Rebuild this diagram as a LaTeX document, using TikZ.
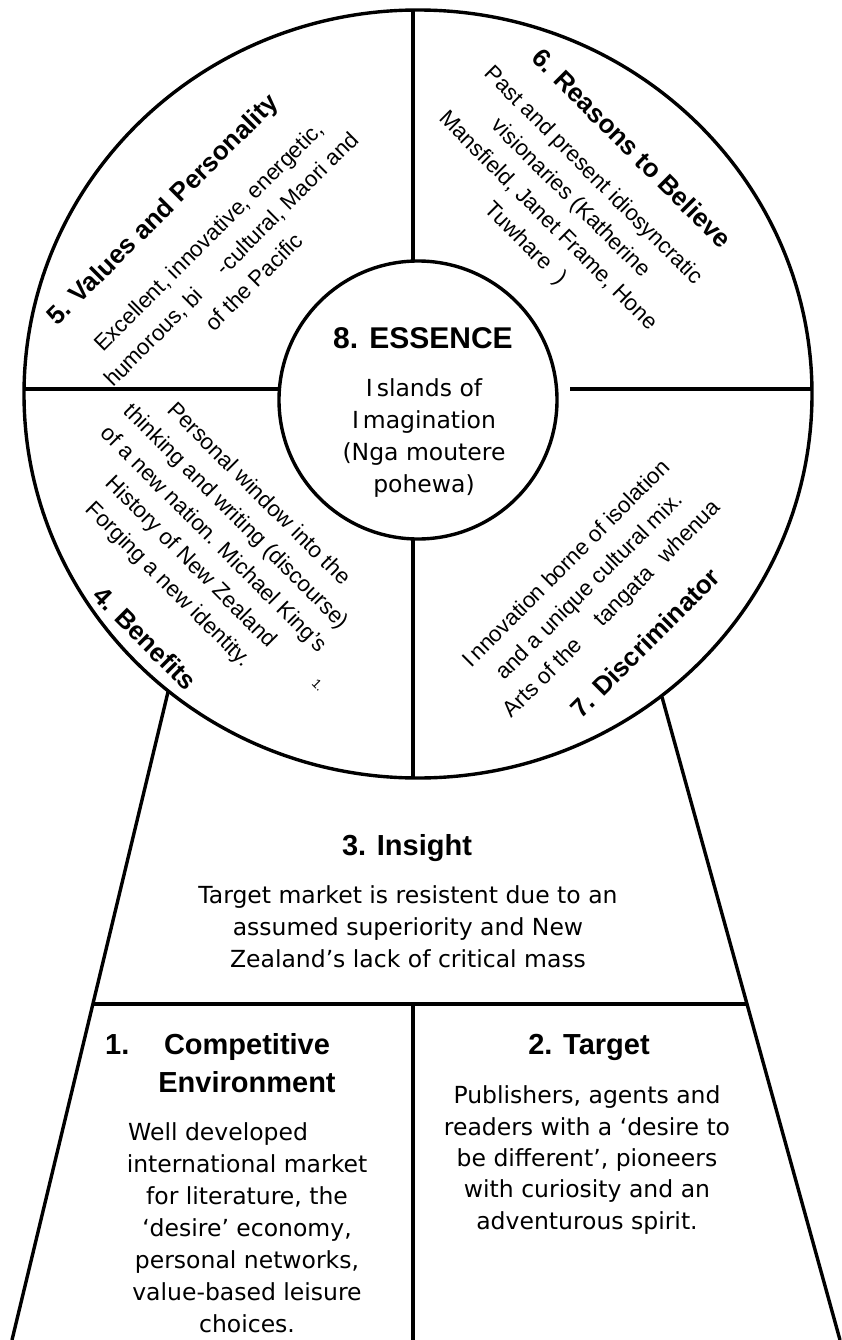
\documentclass[tikz,border=0pt]{standalone}
\usepackage{fontspec}
\newfontfamily\arialf{Liberation Sans}
\newfontfamily\verdf{DejaVu Sans}
\begin{document}
\begin{tikzpicture}[x=1pt,y=-1pt,
  divider/.style={line width=3.4pt},
  rbody/.style={font=\arialf\fontsize{22.3}{32}\selectfont, align=center, inner sep=0pt},
  rtitle/.style={font=\arialf\bfseries\fontsize{26}{30}\selectfont, inner sep=0pt},
  hbody/.style={font=\verdf\fontsize{23.5}{32}\selectfont, align=center, inner sep=0pt},
  htitle/.style={font=\arialf\bfseries\fontsize{29}{38}\selectfont, inner sep=0pt},
  note/.style={font=\arialf\fontsize{13}{15}\selectfont, inner sep=0pt},
]
\fill[white] (0,0) rectangle (841,1340);
\useasboundingbox (0,0) rectangle (841,1340);

% the wheel and the essence circle at its hub
\draw[divider] (418,394) ellipse [x radius=394pt, y radius=384pt];
\draw[divider] (418,400) circle [radius=139pt];

% end points of the dividing lines
\coordinate (rimTop) at (413,10);
\coordinate (hubTop) at (413,261);
\coordinate (hubBottom) at (413,539);
\coordinate (rimBottom) at (413,778);
\coordinate (rimLeft) at (24,389);
\coordinate (hubLeft) at (279,389);
\coordinate (hubRight) at (570,389);
\coordinate (rimRight) at (812,389);
\coordinate (stemLeftTop) at (168,692);
\coordinate (stemLeftFoot) at (12,1340);
\coordinate (stemRightTop) at (662,697);
\coordinate (stemRightFoot) at (840,1340);
\coordinate (shelfLeft) at (93,1004);
\coordinate (shelfRight) at (747,1004);
\coordinate (shelfMid) at (413,1004);
\coordinate (baseMid) at (413,1340);

\draw[divider] (rimTop) -- (hubTop);
\draw[divider] (hubBottom) -- (rimBottom);
\draw[divider] (rimLeft) -- (hubLeft);
\draw[divider] (hubRight) -- (rimRight);
\draw[divider] (stemLeftTop) -- (stemLeftFoot);
\draw[divider] (stemRightTop) -- (stemRightFoot);
\draw[divider] (shelfLeft) -- (shelfRight);
\draw[divider] (shelfMid) -- (baseMid);

% 8. essence (multi-line nodes are anchored at the baseline of their last line)
\node[htitle, font=\arialf\bfseries\fontsize{30}{36}\selectfont, anchor=base] (essTitle) at (423,348) {8. ESSENCE};
\node[hbody, anchor=base] (essBody) at (424,492) {I\kern4pt slands of\\I\kern4pt magination\\(Nga moutere\\pohewa)};

% 5. values and personality
\node[rtitle, rotate=45] (valTitle) at (164,211) {5. Values and Personality};
\node[rbody, rotate=45] (valBody) at (231,259) {Excellent, innovative, energetic,\\humorous, bi\hspace{1.3em}-cultural, Maori and\\of the Pacific};

% 6. reasons to believe
\node[rtitle, rotate=-45] (rsnTitle) at (632,148) {6. Reasons to Believe};
\node[rbody, rotate=-45] (rsnBody) at (559,210) {Past and present idiosyncratic\\visionaries (Katherine\\Mansfield, Janet Frame, Hone\\Tuwhare\hspace{0.6em})};

% 4. benefits
\node[rtitle, rotate=-45] (benTitle) at (145,638) {4. Benefits};
\node[rbody, rotate=-45] (benBody) at (213,540) {Personal window into the\\thinking and writing (discourse)\\of a new nation. Michael King’s\\History of New Zealand\\Forging a new identity.};
\node[note, rotate=-45] (benNote) at (318,685) {1.};

% 7. discriminator
\node[rtitle, rotate=45] (disTitle) at (645,643) {7. Discriminator};
\node[rbody, rotate=45] (disBody) at (590,587) {I\kern3pt nnovation borne of isolation\\and a unique cultural mix.\\Arts of the\hspace{1.2em}tangata\hspace{0.7em}whenua};

% 3. insight
\node[htitle, anchor=base] (insTitle) at (407,855) {3. Insight};
\node[hbody, anchor=base] (insBody) at (408,967) {Target market is resistent due to an\\assumed superiority and New\\Zealand’s lack of critical mass};

% 1. competitive environment
\node[htitle, anchor=base west] (cmpNum) at (105,1054) {1.};
\node[htitle, anchor=base, align=center] (cmpTitle) at (247,1092) {Competitive\\Environment};
\node[hbody, anchor=base west] (cmpLead) at (128,1140) {Well developed};
\node[hbody, anchor=base] (cmpBody) at (247,1332) {international market\\for literature, the\\‘desire’ economy,\\personal networks,\\value-based leisure\\choices.};

% 2. target
\node[htitle, anchor=base] (tgtTitle) at (589,1054) {2. Target};
\node[hbody, font=\verdf\fontsize{23.5}{31.3}\selectfont, anchor=base] (tgtBody) at (587,1229) {Publishers, agents and\\readers with a ‘desire to\\be different’, pioneers\\with curiosity and an\\adventurous spirit.};
\end{tikzpicture}
\end{document}
